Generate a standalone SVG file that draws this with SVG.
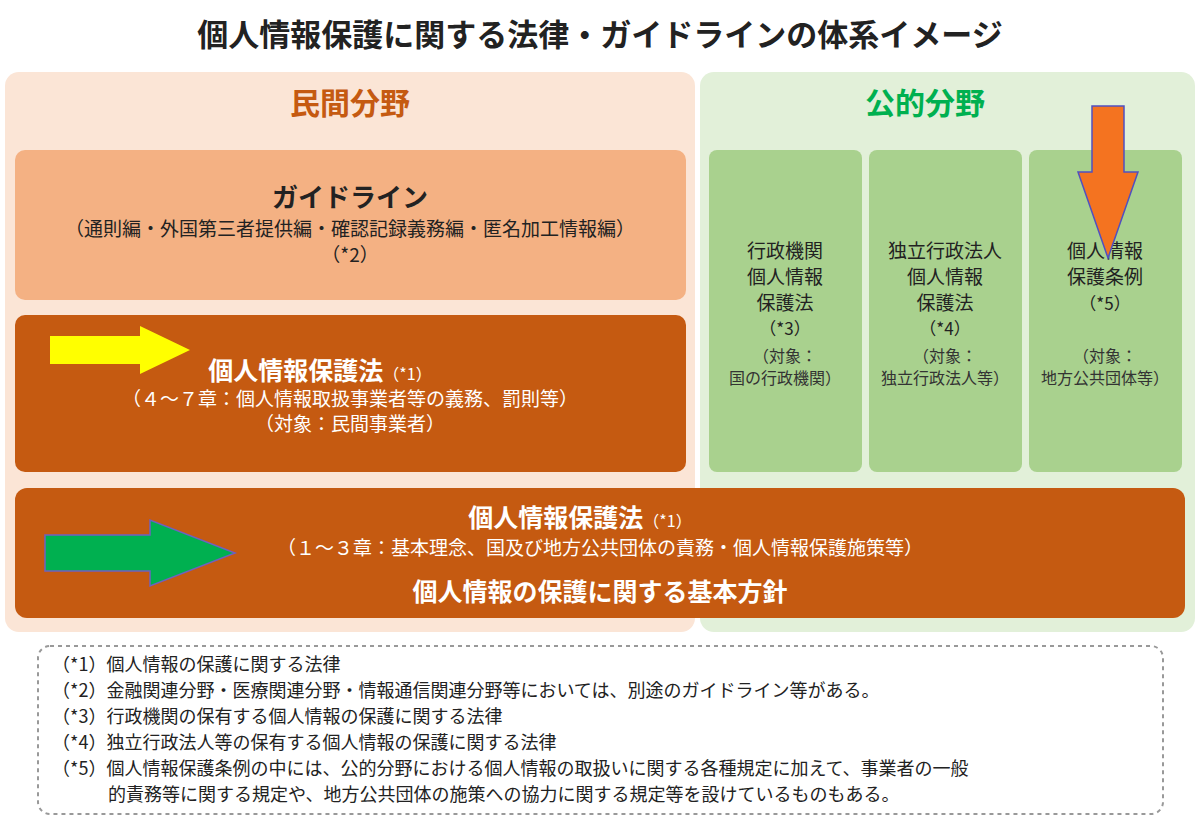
<svg xmlns="http://www.w3.org/2000/svg" width="1200" height="831" viewBox="0 0 1200 831">
<style>
text{font-family:"Noto Sans CJK JP","Noto Sans",sans-serif;text-anchor:middle}
.w{fill:#fff}
.d{fill:#222}
.g{font-size:16px;fill:#333}
.fn{font-size:18px;fill:#222;text-anchor:start}
</style>
<rect width="1200" height="831" fill="#fff"/>
<text x="600" y="46" font-size="31" font-weight="bold" class="d">個人情報保護に関する法律・ガイドラインの体系イメージ</text>
<g id="private"><rect x="5" y="72" width="690" height="560" rx="14" fill="#fbe5d6"/>
<text x="350" y="114" font-size="30" font-weight="bold" fill="#c55a11">民間分野</text></g>
<g id="public"><rect x="700" y="72" width="495" height="560" rx="14" fill="#e2f0d9"/>
<text x="925" y="114" font-size="30" font-weight="bold" fill="#00b050">公的分野</text></g>
<g id="guideline"><rect x="15" y="150" width="671" height="150" rx="10" fill="#f4b183"/>
<text x="350" y="207" font-size="26" font-weight="bold" class="d">ガイドライン</text>
<text x="350" y="236" font-size="19" class="d">（通則編・外国第三者提供編・確認記録義務編・匿名加工情報編）</text>
<text x="350" y="262" font-size="19" class="d">（*2）</text></g>
<g id="law1"><rect x="15" y="315" width="671" height="157" rx="10" fill="#c55a11"/>
<text x="320" y="380" font-size="25" font-weight="bold" class="w">個人情報保護法<tspan font-size="16" font-weight="normal">（*1）</tspan></text>
<text x="350" y="406" font-size="19" class="w">（４～７章：個人情報取扱事業者等の義務、罰則等）</text>
<text x="350" y="431" font-size="19" class="w">（対象：民間事業者）</text></g>
<g id="law2"><rect x="15" y="488" width="1170" height="130" rx="12" fill="#c55a11"/>
<text x="580" y="527" font-size="25" font-weight="bold" class="w">個人情報保護法<tspan font-size="16" font-weight="normal">（*1）</tspan></text>
<text x="600" y="555" font-size="19" class="w">（１～３章：基本理念、国及び地方公共団体の責務・個人情報保護施策等）</text>
<text x="600" y="601" font-size="25" font-weight="bold" class="w">個人情報の保護に関する基本方針</text></g>
<g id="gyosei"><rect x="709" y="150" width="153" height="322" rx="8" fill="#a9d18e"/>
<text x="785" y="258" font-size="19" class="d">行政機関</text><text x="785" y="284" font-size="19" class="d">個人情報</text><text x="785" y="310" font-size="19" class="d">保護法</text><text x="785" y="335" font-size="17" class="d">（*3）</text>
<text x="785" y="362" class="g">（対象：</text><text x="785" y="384" class="g">国の行政機関）</text></g>
<g id="dokuritsu"><rect x="869" y="150" width="153" height="322" rx="8" fill="#a9d18e"/>
<text x="945" y="258" font-size="19" class="d">独立行政法人</text><text x="945" y="284" font-size="19" class="d">個人情報</text><text x="945" y="310" font-size="19" class="d">保護法</text><text x="945" y="335" font-size="17" class="d">（*4）</text>
<text x="945" y="362" class="g">（対象：</text><text x="945" y="384" class="g">独立行政法人等）</text></g>
<g id="jorei"><rect x="1029" y="150" width="153" height="322" rx="8" fill="#a9d18e"/>
<text x="1105" y="258" font-size="19" class="d">個人情報</text><text x="1105" y="284" font-size="19" class="d">保護条例</text><text x="1105" y="310" font-size="17" class="d">（*5）</text>
<text x="1105" y="362" class="g">（対象：</text><text x="1105" y="384" class="g">地方公共団体等）</text></g>
<g id="connectors">
<polygon points="50,336 140,336 140,326 190,350 140,374 140,364 50,364" fill="#ffff00"/>
<polygon points="45,535 150,535 150,520 235,553 150,586 150,571 45,571" fill="#00b050" stroke="#7060c0" stroke-width="1.5"/>
<polygon points="1092,106 1124,106 1124,172 1138,172 1108,258 1078,172 1092,172" fill="#f47320" stroke="#5050c0" stroke-width="1.5"/>
</g>
<g id="notes"><rect x="38" y="646" width="1125" height="168" rx="12" fill="none" stroke="#999" stroke-width="2" stroke-dasharray="4 4"/>
<text x="52" y="671" class="fn">（*1）個人情報の保護に関する法律</text>
<text x="52" y="697" class="fn">（*2）金融関連分野・医療関連分野・情報通信関連分野等においては、別途のガイドライン等がある。</text>
<text x="52" y="723" class="fn">（*3）行政機関の保有する個人情報の保護に関する法律</text>
<text x="52" y="749" class="fn">（*4）独立行政法人等の保有する個人情報の保護に関する法律</text>
<text x="52" y="775" class="fn">（*5）個人情報保護条例の中には、公的分野における個人情報の取扱いに関する各種規定に加えて、事業者の一般</text>
<text x="108" y="801" class="fn">的責務等に関する規定や、地方公共団体の施策への協力に関する規定等を設けているものもある。</text></g>
</svg>
